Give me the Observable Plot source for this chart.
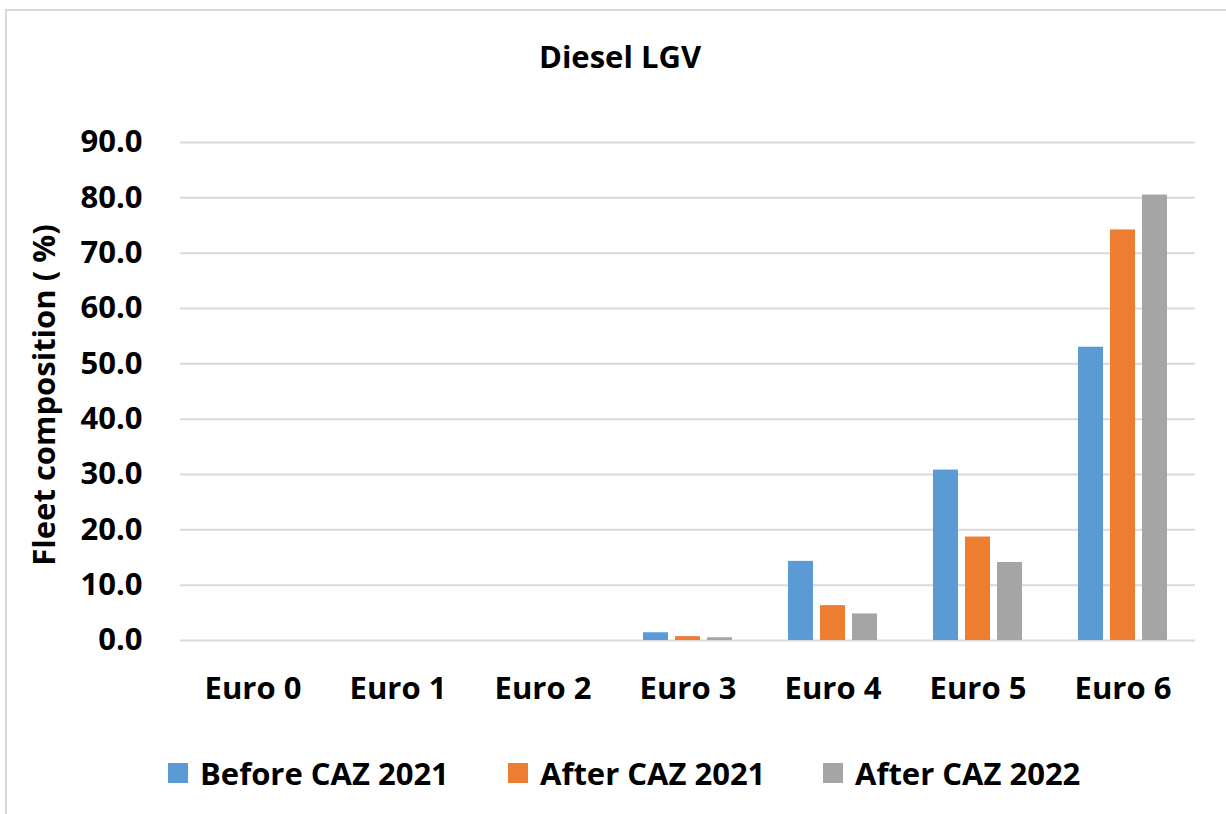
<!DOCTYPE html>
<html>
<head>
<meta charset="utf-8">
<script src="https://cdn.jsdelivr.net/npm/d3@7"></script>
<script src="https://cdn.jsdelivr.net/npm/@observablehq/plot@0.6"></script>
<style>
  html, body { margin: 0; padding: 0; background: #fff; overflow: hidden; }
  body { width: 1226px; height: 814px; position: relative; font-family: "Open Sans", sans-serif; font-weight: 700; color: #000; }
  #frame { position: absolute; left: 5px; top: 9px; width: 1240px; height: 820px; border: 2px solid #d9d9d9; box-sizing: border-box; }
  #title { position: absolute; left: 7px; width: 1226px; top: 36px; height: 40px; line-height: 40px; text-align: center; font-size: 31px; }
  #ylabel { position: absolute; width: 400px; height: 40px; line-height: 40px; text-align: center; font-size: 31px; left: -157px; top: 375px; transform: rotate(-90deg); white-space: nowrap; }
  #chart { position: absolute; left: 0; top: 100px; }
  .lg-sw { position: absolute; width: 20px; height: 20px; top: 763px; }
  .lg-tx { position: absolute; top: 753px; height: 40px; line-height: 40px; font-size: 31px; white-space: nowrap; }
</style>
</head>
<body>
<div id="frame"></div>
<div id="title"></div>
<div id="ylabel"></div>
<div id="chart"></div>
<div id="legend"></div>
<script>
const titleText = "Diesel LGV";
const yLabelText = "Fleet composition ( %)";
const categories = ["Euro 0", "Euro 1", "Euro 2", "Euro 3", "Euro 4", "Euro 5", "Euro 6"];
const seriesNames = ["Before CAZ 2021", "After CAZ 2021", "After CAZ 2022"];
const seriesColors = ["#5b9bd5", "#ed7d31", "#a5a5a5"];
const beforeCAZ2021 = [0, 0, 0, 1.4, 14.3, 30.8, 53.0];
const afterCAZ2021 = [0, 0, 0, 0.7, 6.3, 18.7, 74.2];
const afterCAZ2022 = [0, 0, 0, 0.5, 4.8, 14.1, 80.5];
const yTicks = [0, 10, 20, 30, 40, 50, 60, 70, 80, 90];

const seriesValues = [beforeCAZ2021, afterCAZ2021, afterCAZ2022];
const data = [];
categories.forEach((c, i) => {
  seriesNames.forEach((s, j) => data.push({cat: c, series: s, value: seriesValues[j][i]}));
});

document.getElementById("title").textContent = titleText;
document.getElementById("ylabel").textContent = yLabelText;

const chart = Plot.plot({
  width: 1226,
  height: 620,
  marginTop: 42,
  marginBottom: 80,
  marginLeft: 178,
  marginRight: 30,
  style: {fontFamily: "Open Sans", fontWeight: 700, fontSize: "31px", color: "#000", background: "transparent"},
  fx: {domain: categories, paddingInner: 0, paddingOuter: 0, axis: "bottom", tickSize: 0, tickPadding: 36, label: null},
  x: {domain: seriesNames, paddingInner: 0.227, paddingOuter: 0.817, axis: null},
  y: {domain: [0, 90], ticks: yTicks, tickFormat: d => d.toFixed(1), tickSize: 0, tickPadding: 38, label: null},
  color: {domain: seriesNames, range: seriesColors},
  marks: [
    Plot.ruleY(yTicks, {stroke: "#d9d9d9", strokeWidth: 2}),
    Plot.barY(data, {fx: "cat", x: "series", y: "value", fill: "series"})
  ]
});
document.getElementById("chart").appendChild(chart);

const legend = document.getElementById("legend");
const swLeft = [168, 508, 823];
const txLeft = [200, 540, 855];
seriesNames.forEach((s, j) => {
  const sw = document.createElement("div");
  sw.className = "lg-sw";
  sw.style.left = swLeft[j] + "px";
  sw.style.background = seriesColors[j];
  legend.appendChild(sw);
  const tx = document.createElement("div");
  tx.className = "lg-tx";
  tx.style.left = txLeft[j] + "px";
  tx.textContent = s;
  legend.appendChild(tx);
});
</script>
</body>
</html>
